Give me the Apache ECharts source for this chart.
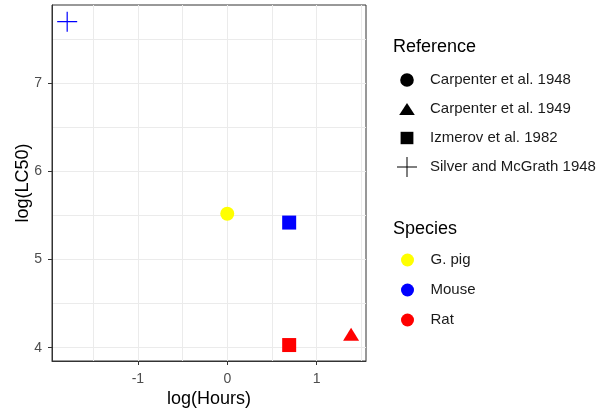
<!DOCTYPE html>
<html>
<head>
<meta charset="utf-8">
<script src="https://cdn.jsdelivr.net/npm/echarts@6/dist/echarts.min.js"></script>
<style>
  html, body { margin: 0; padding: 0; background: #fff; }
  #main { width: 608px; height: 415px; }
</style>
</head>
<body>
<div id="main"></div>
<script>
// legend groups
var references = ['Carpenter et al. 1948', 'Carpenter et al. 1949', 'Izmerov et al. 1982', 'Silver and McGrath 1948'];
var species = ['G. pig', 'Mouse', 'Rat'];

// one entry per point (index into references / species)
var logHours = [0, 1.386, 0.693, 0.693, -1.792];
var logLC50 = [5.52, 4.13, 5.42, 4.03, 7.70];
var pointRef = [0, 1, 2, 2, 3];
var pointSpecies = [0, 2, 1, 2, 1];

// tick labels
var xTicks = [-1, 0, 1];
var yTicks = [4, 5, 6, 7];

var FONT = 'Liberation Sans, Arial, sans-serif';
var speciesColors = ['#FFFF00', '#0000FF', '#FF0000'];

var plusPath = 'path://M9.4,0 H10.6 V9.4 H20 V10.6 H10.6 V20 H9.4 V10.6 H0 V9.4 H9.4 Z';
var refSymbols = ['circle', 'triangle', 'rect', plusPath];
var refSizes = [14, [16, 13], 14, 20];
var refOffsets = [[0, 0], [0, -2], [0, 0], [0, 0]];

// legend icons, padded to a 20x20 box
var refIcons = [
  'path://M0,0 M20,20 M3.2,10 A6.8,6.8 0 1 1 16.8,10 A6.8,6.8 0 1 1 3.2,10 Z',
  'path://M0,0 M20,20 M2.2,16 L17.8,16 L10,4 Z',
  'path://M0,0 M20,20 M3.6,3.8 H16.4 V16.2 H3.6 Z',
  'path://M0,0 M20,20 M9.5,0 H10.5 V9.5 H20 V10.5 H10.5 V20 H9.5 V10.5 H0 V9.5 H9.5 Z'
];

var pointData = logHours.map(function (x, i) {
  return {
    value: [x, logLC50[i]],
    symbol: refSymbols[pointRef[i]],
    symbolSize: refSizes[pointRef[i]],
    symbolOffset: refOffsets[pointRef[i]],
    itemStyle: { color: speciesColors[pointSpecies[i]], opacity: 1 }
  };
});

var series = [{
  name: 'points',
  type: 'scatter',
  data: pointData,
  itemStyle: { opacity: 1 },
  xAxisIndex: 0,
  yAxisIndex: 0
}];
references.forEach(function (r) {
  series.push({ name: r, type: 'scatter', data: [], itemStyle: { color: '#000', opacity: 1 } });
});
species.forEach(function (s, i) {
  series.push({ name: s, type: 'scatter', data: [], itemStyle: { color: speciesColors[i], opacity: 1 } });
});

var gridLine = { show: true, showMinLine: false, showMaxLine: false, lineStyle: { color: '#EBEBEB', width: 1 } };
var tickLabel = { color: '#4D4D4D', fontSize: 14, fontFamily: FONT };
var axisTitle = { color: '#000', fontSize: 18, fontFamily: FONT };
var legendText = { color: '#1A1A1A', fontSize: 15, fontFamily: FONT, lineHeight: 20 };

var myChart = echarts.init(document.getElementById('main'));
var option = {
  animation: false,
  backgroundColor: '#fff',
  title: [
    { text: 'Reference', left: 393, top: 38, padding: 0, textStyle: { color: '#000', fontSize: 18, fontWeight: 'normal', fontFamily: FONT } },
    { text: 'Species', left: 393, top: 220, padding: 0, textStyle: { color: '#000', fontSize: 18, fontWeight: 'normal', fontFamily: FONT } }
  ],
  legend: [
    {
      orient: 'vertical',
      left: 397,
      top: 70,
      padding: 0,
      itemWidth: 36,
      itemHeight: 20,
      itemGap: 9,
      selectedMode: false,
      textStyle: legendText,
      data: references.map(function (r, i) { return { name: r, icon: refIcons[i] }; })
    },
    {
      orient: 'vertical',
      left: 401,
      top: 250,
      padding: 0,
      itemWidth: 36,
      itemHeight: 13,
      itemGap: 10,
      selectedMode: false,
      textStyle: legendText,
      data: species.map(function (s) { return { name: s, icon: 'circle' }; })
    }
  ],
  grid: {
    left: 52,
    top: 5,
    right: 242,
    bottom: 54,
    show: true,
    borderColor: '#333',
    borderWidth: 1,
    backgroundColor: '#fff'
  },
  xAxis: [
    {
      type: 'value',
      min: -1.962,
      max: 1.553,
      splitNumber: 7,
      axisLine: { show: false },
      axisTick: { show: false },
      axisLabel: { show: false },
      splitLine: gridLine
    },
    {
      type: 'value',
      position: 'bottom',
      min: -1.962,
      max: 1.553,
      name: 'log(Hours)',
      nameLocation: 'middle',
      nameGap: 29,
      nameMoveOverlap: false,
      nameTextStyle: axisTitle,
      axisLine: { show: true, onZero: false, lineStyle: { color: '#333' } },
      axisTick: { show: true, length: 4, customValues: xTicks, lineStyle: { color: '#333' } },
      axisLabel: Object.assign({ customValues: xTicks, margin: 11 }, tickLabel),
      splitLine: { show: false }
    }
  ],
  yAxis: [
    {
      type: 'value',
      min: 3.849,
      max: 7.889,
      splitNumber: 8,
      axisLine: { show: false },
      axisTick: { show: false },
      axisLabel: { show: false },
      splitLine: gridLine
    },
    {
      type: 'value',
      position: 'left',
      min: 3.849,
      max: 7.889,
      name: 'log(LC50)',
      nameLocation: 'middle',
      nameGap: 20,
      nameMoveOverlap: false,
      nameTextStyle: axisTitle,
      axisLine: { show: true, onZero: false, lineStyle: { color: '#333' } },
      axisTick: { show: true, length: 4, customValues: yTicks, lineStyle: { color: '#333' } },
      axisLabel: Object.assign({ customValues: yTicks, margin: 10 }, tickLabel),
      splitLine: { show: false }
    }
  ],
  series: series
};
myChart.setOption(option);
</script>
</body>
</html>
